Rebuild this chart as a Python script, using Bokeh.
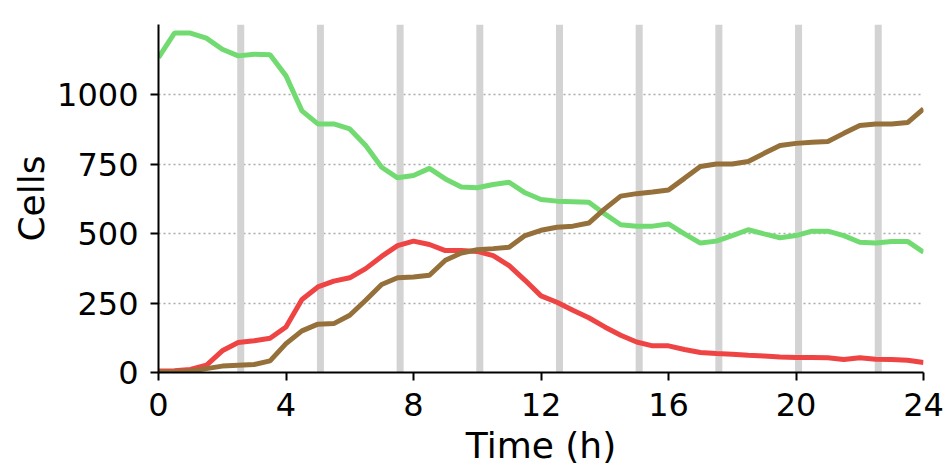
from bokeh.plotting import figure
from bokeh.models import Range1d, FixedTicker
from bokeh.embed import file_html
from bokeh.resources import INLINE

# ---- data ----
time_h = [0, 0.5, 1, 1.5, 2, 2.5, 3, 3.5, 4, 4.5, 5, 5.5, 6, 6.5, 7, 7.5, 8, 8.5,
          9, 9.5, 10, 10.5, 11, 11.5, 12, 12.5, 13, 13.5, 14, 14.5, 15, 15.5, 16,
          16.5, 17, 17.5, 18, 18.5, 19, 19.5, 20, 20.5, 21, 21.5, 22, 22.5, 23,
          23.5, 24]
green_cells = [1134, 1222, 1222, 1204, 1164, 1140, 1146, 1144, 1068, 942,
               895, 895, 877, 817, 739, 701, 709, 735, 697, 668,
               665, 677, 685, 647, 623, 617, 615, 613, 571, 532,
               527, 527, 535, 499, 466, 473, 493, 514, 499, 485,
               493, 509, 509, 493, 469, 466, 472, 472, 433]
red_cells = [5, 6, 11, 26, 78, 108, 114, 123, 164, 263,
             308, 329, 341, 374, 418, 457, 473, 461, 439, 439,
             436, 421, 385, 332, 276, 253, 224, 197, 164, 134,
             110, 96, 96, 83, 72, 68, 66, 62, 59, 56,
             54, 54, 53, 47, 53, 48, 47, 44, 36]
brown_cells = [2, 2, 5, 14, 23, 26, 29, 42, 104, 150,
               174, 176, 206, 260, 317, 341, 344, 350, 404, 430,
               442, 446, 451, 493, 512, 523, 527, 538, 589, 635,
               644, 650, 657, 699, 742, 751, 751, 760, 789, 817,
               825, 829, 832, 861, 889, 895, 895, 900, 949]
marker_times = [2.58, 5.08, 7.58, 10.08, 12.58, 15.08, 17.58, 20.08, 22.58]
x_ticks = [0, 4, 8, 12, 16, 20, 24]
y_ticks = [0, 250, 500, 750, 1000]
X_MAX = 24
Y_MAX = 1253

FONT = "DejaVu Sans"

p = figure(width=946, height=469, output_backend="svg", toolbar_location=None,
           x_range=Range1d(0, X_MAX), y_range=Range1d(0, Y_MAX),
           min_border_left=158, min_border_right=23, min_border_top=24,
           min_border_bottom=97)
p.outline_line_color = None
p.background_fill_color = "white"
p.border_fill_color = "white"

# vertical marker bars
p.vbar(x=marker_times, top=Y_MAX, bottom=0, width=0.22,
       fill_color="#d3d3d3", line_color=None)

p.line(time_h, green_cells, line_color="#71db71", line_width=5)
p.line(time_h, red_cells, line_color="#ef4444", line_width=5)
p.line(time_h, brown_cells, line_color="#96703a", line_width=5)

# grid
p.xgrid.visible = False
p.ygrid.grid_line_color = "#aaaaaa"
p.ygrid.grid_line_dash = "2 3"
p.ygrid.grid_line_width = 1.3

# axes
p.xaxis.ticker = FixedTicker(ticks=x_ticks)
p.yaxis.ticker = FixedTicker(ticks=y_ticks)
for ax in (p.xaxis[0], p.yaxis[0]):
    ax.axis_line_width = 2
    ax.axis_line_color = "black"
    ax.major_tick_line_width = 2
    ax.major_tick_line_color = "black"
    ax.major_tick_out = 8
    ax.major_tick_in = 0
    ax.minor_tick_line_color = None
    ax.major_label_text_font = FONT
    ax.major_label_text_font_size = "32px"
    ax.major_label_text_color = "black"
    ax.axis_label_text_font = FONT
    ax.axis_label_text_font_size = "36px"
    ax.axis_label_text_font_style = "normal"
    ax.axis_label_text_color = "black"
    ax.major_label_standoff = 12

p.xaxis.axis_label = "Time (h)"
p.yaxis.axis_label = "Cells"
p.xaxis.axis_label_standoff = 6
p.yaxis.axis_label_standoff = 2

open("out.html", "w").write(file_html(p, INLINE))
